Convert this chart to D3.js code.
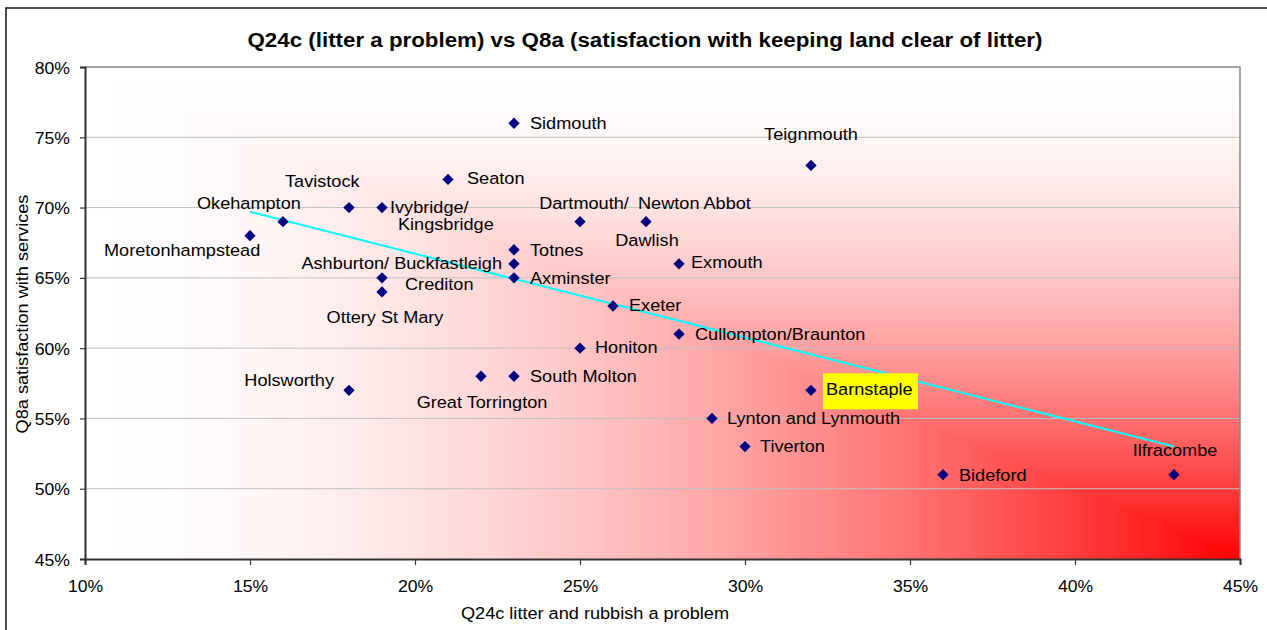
<!DOCTYPE html>
<html>
<head>
<meta charset="utf-8">
<script src="https://cdn.jsdelivr.net/npm/d3@7"></script>
<style>
  html, body { margin: 0; padding: 0; background: #ffffff; }
  svg { display: block; font-family: "Liberation Sans", Arial, sans-serif; }
</style>
</head>
<body>
<svg id="chart" width="1267" height="630"></svg>
<script>
// ---------------- DATA ----------------
const towns = [
  "Moretonhampstead", "Okehampton", "Tavistock", "Ivybridge/\nKingsbridge", "Seaton",
  "Sidmouth", "Teignmouth", "Dartmouth/", "Newton Abbot", "Totnes",
  "Ashburton/ Buckfastleigh", "Axminster", "Crediton", "Ottery St Mary", "Exmouth",
  "Exeter", "Cullompton/Braunton", "Honiton", "South Molton", "Great Torrington",
  "Holsworthy", "Barnstaple", "Lynton and Lynmouth", "Tiverton", "Bideford", "Ilfracombe"
];
const litterProblem = [15, 16, 18, 19, 21, 23, 32, 25, 27, 23, 23, 23, 19, 19, 28, 26, 28, 25, 23, 22, 18, 32, 29, 30, 36, 43];
const satisfaction = [68, 69, 70, 70, 72, 76, 73, 69, 69, 67, 66, 65, 65, 64, 66, 63, 61, 60, 58, 58, 57, 57, 55, 53, 51, 51];
// extra label text shown below the Newton Abbot point
const extraLabels = [{ text: "Dawlish", town: "Newton Abbot" }];
const highlightedTown = "Barnstaple";
// linear trend line
const trendX = [15, 43];
const trendY = [69.7, 53.0];
const xTicks = [10, 15, 20, 25, 30, 35, 40, 45];
const yTicks = [45, 50, 55, 60, 65, 70, 75, 80];
const titleText = "Q24c (litter a problem) vs Q8a (satisfaction with keeping land clear of litter)";
const xTitle = "Q24c litter and rubbish a problem";
const yTitle = "Q8a satisfaction with services";

// ---------------- LAYOUT ----------------
const plot = { left: 85, right: 1240, top: 67, bottom: 559 };
const SX = 1.1; // horizontal text stretch of the original rendering
// label offsets from the marker: [dx, dy(baseline), anchor]
const labelPlace = {
  "Moretonhampstead": [-146, 20, "start"],
  "Okehampton": [-86, -13, "start"],
  "Tavistock": [-64, -21, "start"],
  "Ivybridge/\nKingsbridge": [8, 5, "start"],
  "Seaton": [19, 5, "start"],
  "Sidmouth": [16, 6, "start"],
  "Teignmouth": [0, -25, "middle"],
  "Dartmouth/": [4, -13, "middle"],
  "Newton Abbot": [-8, -13, "start"],
  "Dawlish": [1, 24, "middle"],
  "Totnes": [16, 6, "start"],
  "Ashburton/ Buckfastleigh": [-12, 5, "end"],
  "Axminster": [16, 6, "start"],
  "Crediton": [23, 12, "start"],
  "Ottery St Mary": [3, 31, "middle"],
  "Exmouth": [12, 4, "start"],
  "Exeter": [16, 5, "start"],
  "Cullompton/Braunton": [16, 6, "start"],
  "Honiton": [15, 5, "start"],
  "South Molton": [16, 6, "start"],
  "Great Torrington": [1, 32, "middle"],
  "Holsworthy": [-15, -4, "end"],
  "Barnstaple": [15, 5, "start"],
  "Lynton and Lynmouth": [15, 6, "start"],
  "Tiverton": [15, 5, "start"],
  "Bideford": [16, 6, "start"],
  "Ilfracombe": [1, -19, "middle"]
};

const svg = d3.select("#chart");
const x = d3.scaleLinear().domain([10, 45]).range([plot.left, plot.right]);
const y = d3.scaleLinear().domain([45, 80]).range([plot.bottom, plot.top]);
const pct = d => d + "%";

function addText(g, px, py, s, size, anchor, weight, fill) {
  return g.append("text")
    .attr("transform", `translate(${px},${py}) scale(${SX},1)`)
    .attr("text-anchor", anchor || "start")
    .attr("font-size", size + "px")
    .attr("font-weight", weight || "normal")
    .attr("fill", fill || "#000")
    .text(s);
}

// outer chart border
svg.append("rect").attr("x", 6).attr("y", 8).attr("width", 1300).attr("height", 700)
  .attr("fill", "#fff").attr("stroke", "#222").attr("stroke-width", 1.6);

// plot background: corner gradient (red at bottom-right, white towards top-left)
const W = plot.right - plot.left, H = plot.bottom - plot.top;
const steps = 220;
const bg = svg.append("g");
const col = d3.interpolateRgb("#ffffff", "#ff0000");
for (let i = steps; i >= 1; i--) {
  const dd = i / steps;
  const t = Math.pow(1 - dd + 0.5 / steps, 1.75);
  bg.append("rect")
    .attr("x", plot.right - dd * W).attr("y", plot.bottom - dd * H)
    .attr("width", dd * W).attr("height", dd * H)
    .attr("fill", col(Math.min(1, t)));
}

// gridlines
svg.append("g").selectAll("line").data(yTicks.filter(v => v > 45 && v < 80)).join("line")
  .attr("x1", plot.left).attr("x2", plot.right)
  .attr("y1", d => y(d)).attr("y2", d => y(d))
  .attr("stroke", "#c0c0c0").attr("stroke-width", 1);

// plot border (top & right)
svg.append("path")
  .attr("d", `M${plot.left},${plot.top}H${plot.right}V${plot.bottom}`)
  .attr("fill", "none").attr("stroke", "#888").attr("stroke-width", 1.5);

// axes
const xAxis = svg.append("g").attr("transform", `translate(0,${plot.bottom})`)
  .call(d3.axisBottom(x).tickValues(xTicks).tickFormat(pct).tickSize(6).tickPadding(10));
const yAxis = svg.append("g").attr("transform", `translate(${plot.left},0)`)
  .call(d3.axisLeft(y).tickValues(yTicks).tickFormat(pct).tickSize(5).tickPadding(10));
[xAxis, yAxis].forEach(a => {
  a.select(".domain").attr("stroke", "#333").attr("stroke-width", 2);
  a.selectAll(".tick line").attr("stroke", "#333").attr("stroke-width", 1.2);
  a.selectAll(".tick text").attr("font-size", "16px").attr("fill", "#000")
    .attr("font-family", "Liberation Sans, Arial, sans-serif");
});
xAxis.selectAll(".tick text").attr("dy", null).attr("y", null)
  .attr("transform", `translate(0,33) scale(${SX},1)`);
yAxis.selectAll(".tick text").attr("dy", null).attr("x", null)
  .attr("transform", `translate(-15,6) scale(${SX},1)`);

// trend line
svg.append("path")
  .datum(trendX.map((v, i) => [v, trendY[i]]))
  .attr("d", d3.line().x(d => x(d[0])).y(d => y(d[1])))
  .attr("stroke", "#00ffff").attr("stroke-width", 2).attr("fill", "none");

// markers
const pts = towns.map((t, i) => ({ town: t, lx: litterProblem[i], sy: satisfaction[i] }));
svg.append("g").selectAll("path").data(pts).join("path")
  .attr("transform", d => `translate(${x(d.lx)},${y(d.sy)}) rotate(45)`)
  .attr("d", d3.symbol(d3.symbolSquare, 64))
  .attr("fill", "#000080");

// labels
const lg = svg.append("g");
const allLabels = pts.map(p => ({ text: p.town, p }))
  .concat(extraLabels.map(e => ({ text: e.text, p: pts.find(q => q.town === e.town) })));
allLabels.forEach(l => {
  const pl = labelPlace[l.text];
  const px = x(l.p.lx) + pl[0], py = y(l.p.sy) + pl[1];
  const lines = l.text.split("\n");
  if (l.text === highlightedTown) {
    lg.append("rect").attr("x", px - 3).attr("y", py - 22).attr("width", 95).attr("height", 36)
      .attr("fill", "#ffff00");
  }
  lines.forEach((s, k) => {
    addText(lg, px + k * 8, py + k * 17, s, 16.5, pl[2]);
  });
});

// titles
addText(svg, 645, 47, titleText, 20.3, "middle", "bold");
addText(svg, 595, 619, xTitle, 16.5, "middle");
svg.append("text")
  .attr("transform", `translate(28,314) rotate(-90) scale(${SX},1)`)
  .attr("text-anchor", "middle").attr("font-size", "16.5px").attr("fill", "#000")
  .text(yTitle);
</script>
</body>
</html>
